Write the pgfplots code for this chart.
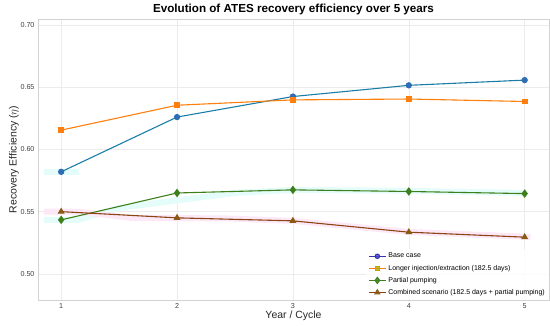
\documentclass[border=0pt]{standalone}
\usepackage{pgfplots}
\pgfplotsset{compat=1.18}
\usepackage{fontspec}
\setmainfont{Liberation Sans}
\definecolor{cbase}{HTML}{1A7DA8}
\definecolor{cbasem}{HTML}{2F6DB5}
\definecolor{corange}{HTML}{FF7F0E}
\definecolor{cgreen}{HTML}{3D7F1C}
\definecolor{cbrown}{HTML}{8B4513}
\definecolor{cbrownm}{HTML}{8A5A14}
\definecolor{colive}{HTML}{B8A800}
\definecolor{bandc}{HTML}{E4FCFA}
\definecolor{bandp}{HTML}{FCE8F7}
\begin{document}
\begin{tikzpicture}
\useasboundingbox (-38bp,-26bp) rectangle (512bp,300bp);
\begin{axis}[
  scale only axis,
  width=511bp, height=281bp,
  xmin=0.8, xmax=5.21, ymin=0.479, ymax=0.7048,
  xtick={1,2,3,4,5},
  ytick={0.50,0.55,0.60,0.65,0.70},
  yticklabel style={/pgf/number format/fixed,/pgf/number format/fixed zerofill,/pgf/number format/precision=2},
  /pgf/number format/assume math mode=true,
  major tick length=0pt,
  tick label style={font=\fontsize{7.2}{8}\selectfont, text=black!75},
  grid=major,
  grid style={gray!15, line width=0.5pt},
  axis line style={gray!35, line width=0.8pt},
  title={\bfseries Evolution of ATES recovery efficiency over 5 years},
  title style={font=\fontsize{11.7}{13}\selectfont, yshift=-5bp},
  xlabel={Year / Cycle},
  ylabel={Recovery Efficiency ($\eta$)},
  label style={font=\fontsize{10.5}{12}\selectfont, text=black!85},
  xlabel style={yshift=5bp},
  ylabel style={yshift=-5bp},
  legend style={at={(1,0)}, anchor=south east, draw=none, fill=white, fill opacity=0.8, text opacity=1, font=\fontsize{7}{8}\selectfont, row sep=1.6pt, inner sep=2pt},
  legend cell align=left,
  every axis plot/.append style={line width=1.1pt},
]
% faint bands
\addplot[bandc, line width=6pt, forget plot] coordinates {(0.85,0.582) (1.15,0.582)};
\addplot[bandc, line width=6pt, forget plot] coordinates {(0.85,0.5434) (1.15,0.5434) (1.5,0.553) (2.5,0.565) (3,0.5675) (4,0.5667) (5,0.565)};
\addplot[bandp, line width=6pt, forget plot] coordinates {(0.85,0.550) (1.15,0.550) (1.6,0.545) (2.4,0.5446) (3,0.5426) (4,0.5337) (5.05,0.5297)};
% series
\addplot[cbase, mark=*, mark size=2.6pt, mark options={fill=cbasem, draw=cbasem}, forget plot] coordinates {(1,0.582) (2,0.626) (3,0.6425) (4,0.6515) (5,0.6557)};
\addplot[corange, mark=square*, mark size=2.4pt, forget plot] coordinates {(1,0.6155) (2,0.6355) (3,0.6398) (4,0.6405) (5,0.6385)};
\addplot[cgreen, mark=diamond*, mark size=3.4pt, forget plot] coordinates {(1,0.5434) (2,0.5650) (3,0.5675) (4,0.5662) (5,0.5645)};
\addplot[cbrown, mark=triangle*, mark size=3pt, mark options={fill=cbrownm, draw=cbrownm}, forget plot] coordinates {(1,0.5500) (2,0.5450) (3,0.5426) (4,0.5335) (5,0.5295)};
% legend entries
\addlegendimage{blue!60!black!80, line width=1.1pt, mark=*, mark size=2.2pt, mark options={fill=blue!70!black!70}}
\addlegendentry{Base case}
\addlegendimage{corange, line width=1.1pt, mark=square*, mark size=2.2pt, mark options={fill=colive, draw=colive}}
\addlegendentry{Longer injection/extraction (182.5 days)}
\addlegendimage{cgreen, line width=1.1pt, mark=diamond*, mark size=3pt}
\addlegendentry{Partial pumping}
\addlegendimage{cbrown, line width=1.1pt, mark=triangle*, mark size=2.8pt, mark options={fill=cbrownm, draw=cbrownm}}
\addlegendentry{Combined scenario (182.5 days + partial pumping)}
\end{axis}
\end{tikzpicture}
\end{document}
